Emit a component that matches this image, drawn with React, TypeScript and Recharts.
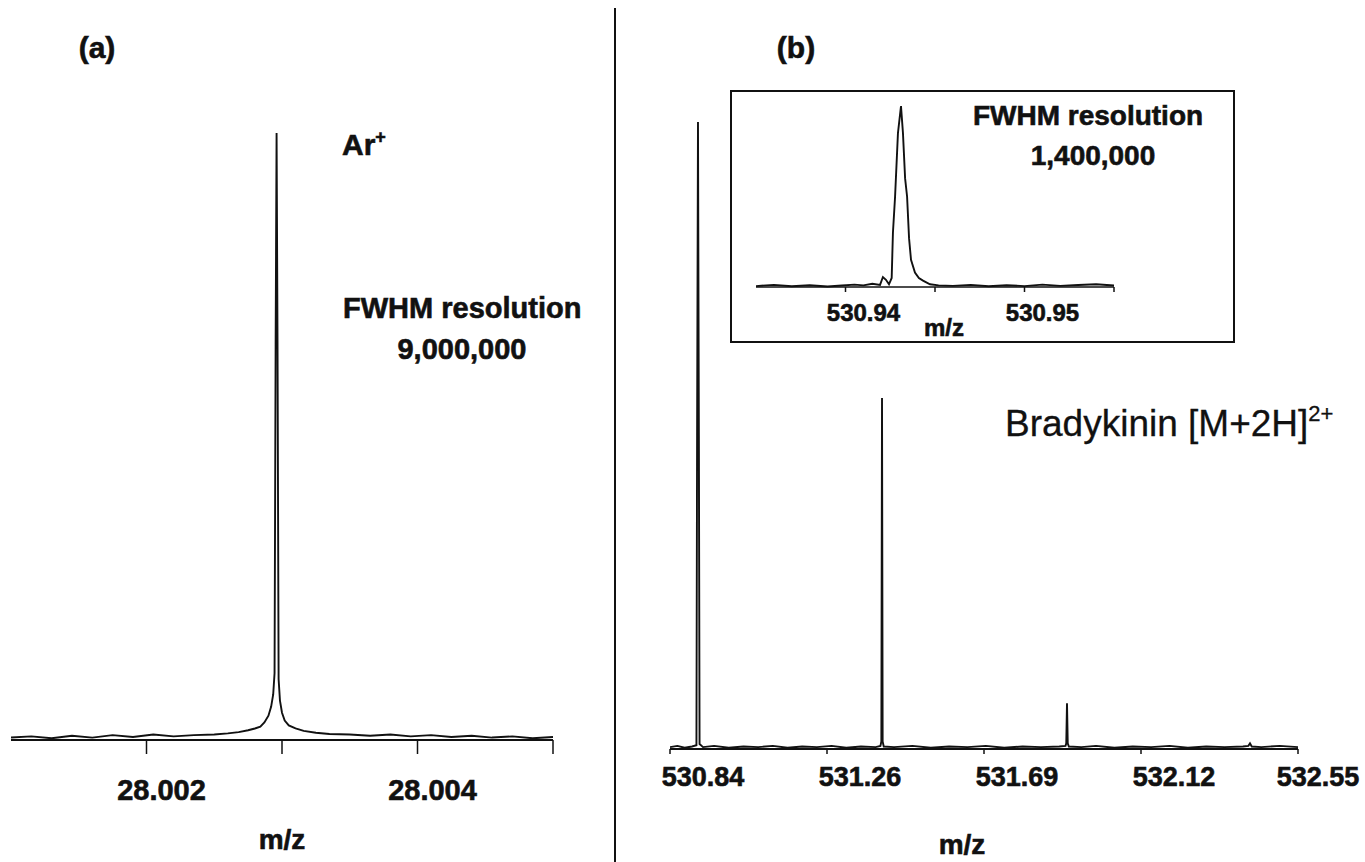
import React from "react";
import { LineChart, Line, XAxis, YAxis, Label, Customized } from "recharts";

// (a) Ar+ peak, m/z vs relative intensity (%)
const arMz = [
  28.001, 28.00115, 28.0013, 28.00145, 28.0016, 28.00175, 28.0019, 28.00205, 28.0022, 28.00235,
  28.0025, 28.0026, 28.00268, 28.00275, 28.0028, 28.00284, 28.00287, 28.0029, 28.00292, 28.002935,
  28.002945, 28.002953, 28.00296, 28.002967, 28.002975, 28.002985, 28.003, 28.00302, 28.00305, 28.0031,
  28.00316, 28.00325, 28.00335, 28.0035, 28.00365, 28.0038, 28.00395, 28.0041, 28.00425, 28.0044,
  28.00455, 28.0047, 28.00485, 28.005,
];
const arIntensity = [
  0.4, 0.6, 0.3, 0.7, 0.4, 0.8, 0.5, 0.9, 0.6, 0.8,
  0.9, 1.1, 1.3, 1.6, 1.9, 2.2, 2.9, 4.0, 5.5, 7.5,
  11, 65, 100, 65, 10, 6.5, 4.5, 3.2, 2.4, 1.9,
  1.5, 1.2, 1.0, 0.9, 0.7, 0.9, 0.6, 0.8, 0.5, 0.7,
  0.4, 0.6, 0.3, 0.5,
];
const arTicks = [28.002, 28.003, 28.004, 28.005];
const arTickLabels = ["28.002", "", "28.004", ""];

// (b) bradykinin [M+2H]2+ isotope envelope
const bkMz = [
  530.84, 530.86, 530.88, 530.9, 530.912, 530.9138, 530.9162, 530.9186, 530.9205, 530.93,
  530.96, 531.0, 531.04, 531.08, 531.12, 531.16, 531.2, 531.24, 531.28, 531.32,
  531.36, 531.4, 531.413, 531.4155, 531.4173, 531.419, 531.422, 531.45, 531.5, 531.55,
  531.6, 531.65, 531.7, 531.75, 531.8, 531.85, 531.9, 531.917, 531.919, 531.921,
  531.923, 531.926, 531.96, 532.0, 532.05, 532.1, 532.15, 532.2, 532.25, 532.3,
  532.35, 532.4, 532.415, 532.4193, 532.424, 532.45, 532.5, 532.55,
];
const bkIntensity = [
  0.3, 0.5, 0.2, 0.4, 0.6, 50, 100, 50, 0.8, 0.3,
  0.5, 0.2, 0.4, 0.3, 0.5, 0.2, 0.4, 0.3, 0.5, 0.2,
  0.4, 0.3, 0.5, 1.2, 56, 1.2, 0.4, 0.3, 0.5, 0.2,
  0.4, 0.3, 0.5, 0.2, 0.4, 0.3, 0.4, 0.5, 0.9, 7.3,
  0.9, 0.4, 0.3, 0.5, 0.2, 0.4, 0.3, 0.5, 0.2, 0.4,
  0.3, 0.4, 0.5, 0.9, 0.4, 0.3, 0.5, 0.3,
];
const bkTicks = [530.84, 531.2675, 531.695, 532.1225, 532.55];
const bkTickLabels = ["530.84", "531.26", "531.69", "532.12", "532.55"];

// inset: zoom on the monoisotopic peak
const insetMz = [
  530.935, 530.936, 530.937, 530.938, 530.939, 530.9398, 530.9405, 530.941, 530.9415, 530.94193,
  530.94209, 530.94226, 530.94243, 530.94258, 530.94265, 530.94277, 530.94293, 530.9431, 530.94321, 530.94333,
  530.94344, 530.94355, 530.94366, 530.94388, 530.9441, 530.94433, 530.94472, 530.9452, 530.946, 530.947,
  530.948, 530.949, 530.95, 530.951, 530.952, 530.953, 530.954, 530.955,
];
const insetIntensity = [
  0.5, 1.2, 0.4, 1.0, 0.3, 0.8, 1.3, 0.9, 1.8, 1.2,
  5.5, 4.0, 1.5, 5, 30, 50, 85, 100, 85, 60,
  50, 27, 15, 8, 5, 3.5, 1.5, 0.9, 0.6, 1.2,
  0.4, 1.0, 0.5, 1.3, 0.6, 1.1, 1.5, 0.8,
];
const insetTicks = [530.94, 530.945, 530.95, 530.955];
const insetTickLabels = ["530.94", "", "530.95", ""];

const toRows = (mz: number[], y: number[]) => mz.map((m, i) => ({ mz: m, intensity: y[i] }));

const INK = "#111";
// thin outline makes the bold glyphs a touch heavier, like the printed figure
const heavy = { stroke: INK, strokeWidth: 0.6 };

function makeTick(ticks: number[], labels: string[], fontSize: number, dx: number, lastDx = dx) {
  return (props: any) => {
    const { x, y, payload } = props;
    const i = ticks.findIndex((t) => Math.abs(t - payload.value) < 1e-9);
    const label = i >= 0 ? labels[i] : "";
    if (!label) return <g />;
    const shift = i === ticks.length - 1 ? lastDx : dx;
    return (
      <text x={x + shift} y={y} dy="0.71em" textAnchor="middle" fontSize={fontSize} fontWeight="bold" fill={INK} {...heavy}>
        {label}
      </text>
    );
  };
}

const PanelA = () => (
  <LineChart width={600} height={862} data={toRows(arMz, arIntensity)} margin={{ top: 133, right: 47, bottom: 0, left: 11 }}>
    <XAxis
      type="number"
      dataKey="mz"
      domain={[28.001, 28.005]}
      ticks={arTicks}
      interval={0}
      allowDataOverflow
      height={122}
      tickSize={14}
      tickMargin={25}
      axisLine={{ stroke: INK, strokeWidth: 2 }}
      tickLine={{ stroke: INK, strokeWidth: 1.5 }}
      tick={makeTick(arTicks, arTickLabels, 29, 15)}
    >
      <Label value="m/z" position="insideBottom" offset={13} fontSize={28} fontWeight="bold" fill={INK} {...heavy} />
    </XAxis>
    <YAxis hide domain={[0, 100]} />
    <Line type="linear" dataKey="intensity" stroke={INK} strokeWidth={1.9} dot={false} isAnimationActive={false} />
    <Customized
      component={() => (
        <g fill={INK} fontWeight="bold" {...heavy}>
          <text x={97} y={58} fontSize={30} textAnchor="middle">(a)</text>
          <text x={342} y={155} fontSize={30}>
            Ar<tspan fontSize={18} dy={-12}>+</tspan>
          </text>
          <text x={343} y={318} fontSize={29}>FWHM resolution</text>
          <text x={462} y={359} fontSize={29} textAnchor="middle">9,000,000</text>
        </g>
      )}
    />
  </LineChart>
);

const PanelB = () => (
  <LineChart width={750} height={862} data={toRows(bkMz, bkIntensity)} margin={{ top: 122, right: 67, bottom: 0, left: 55 }}>
    <XAxis
      type="number"
      dataKey="mz"
      domain={[530.84, 532.55]}
      ticks={bkTicks}
      interval={0}
      allowDataOverflow
      height={113}
      tickSize={5}
      tickMargin={13}
      axisLine={{ stroke: INK, strokeWidth: 2 }}
      tickLine={{ stroke: INK, strokeWidth: 1.5 }}
      tick={makeTick(bkTicks, bkTickLabels, 27, 33, 20)}
    >
      <Label value="m/z" position="insideBottom" offset={8} dx={-22} fontSize={28} fontWeight="bold" fill={INK} {...heavy} />
    </XAxis>
    <YAxis hide domain={[0, 100]} />
    <Line type="linear" dataKey="intensity" stroke={INK} strokeWidth={1.9} dot={false} isAnimationActive={false} />
    <Customized
      component={() => (
        <g fill={INK}>
          <text x={181} y={58} fontSize={30} fontWeight="bold" textAnchor="middle" {...heavy}>(b)</text>
          <text x={390} y={436} fontSize={37} stroke={INK} strokeWidth={0.3}>
            Bradykinin [M+2H]<tspan fontSize={22} dy={-15}>2+</tspan>
          </text>
        </g>
      )}
    />
  </LineChart>
);

const Inset = () => (
  <LineChart width={501} height={249} data={toRows(insetMz, insetIntensity)} margin={{ top: 14, right: 119, bottom: 0, left: 24 }}>
    <XAxis
      type="number"
      dataKey="mz"
      domain={[530.935, 530.955]}
      ticks={insetTicks}
      interval={0}
      allowDataOverflow
      height={54}
      tickSize={5}
      tickMargin={12}
      axisLine={{ stroke: INK, strokeWidth: 1.5 }}
      tickLine={{ stroke: INK, strokeWidth: 1.5 }}
      tick={makeTick(insetTicks, insetTickLabels, 24, 18)}
    >
      <Label value="m/z" position="insideBottom" offset={5} dx={9} fontSize={24} fontWeight="bold" fill={INK} {...heavy} />
    </XAxis>
    <YAxis hide domain={[0, 100]} />
    <Line type="linear" dataKey="intensity" stroke={INK} strokeWidth={1.9} dot={false} isAnimationActive={false} />
    <Customized
      component={() => (
        <g fill={INK} fontWeight="bold" fontSize={28} textAnchor="middle" {...heavy}>
          <text x={356} y={33}>FWHM resolution</text>
          <text x={361} y={73}>1,400,000</text>
        </g>
      )}
    />
  </LineChart>
);

export default function App() {
  return (
    <div
      style={{
        position: "absolute",
        left: 0,
        top: 0,
        width: 1365,
        height: 862,
        background: "#fff",
        overflow: "hidden",
        fontFamily: '"Liberation Sans", Arial, sans-serif',
      }}
    >
      <div style={{ position: "absolute", left: 614, top: 8, width: 2, height: 854, background: INK }} />
      <div style={{ position: "absolute", left: 0, top: 0 }}>
        <PanelA />
      </div>
      <div style={{ position: "absolute", left: 615, top: 0 }}>
        <PanelB />
      </div>
      <div style={{ position: "absolute", left: 730, top: 90, width: 501, height: 249, border: `2px solid ${INK}`, background: "#fff" }}>
        <Inset />
      </div>
    </div>
  );
}
